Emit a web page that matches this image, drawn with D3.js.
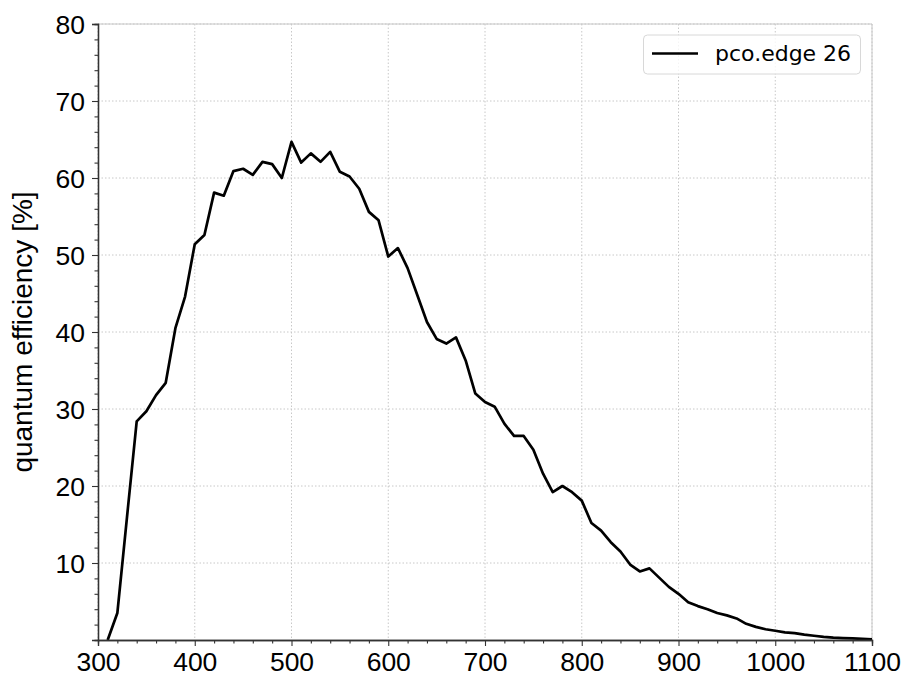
<!DOCTYPE html>
<html><head><meta charset="utf-8">
<script src="https://cdn.jsdelivr.net/npm/d3@7"></script>
<style>body{margin:0;background:#fff}</style>
</head><body>
<svg id="c" width="908" height="673"></svg>
<script>
const wavelengths = d3.range(310, 1101, 10);
const qe = [0,3.5,16,28.4,29.7,31.8,33.4,40.5,44.6,51.4,
52.6,58.1,57.7,60.9,61.2,60.4,62.1,61.8,60.0,64.7,
62.0,63.2,62.1,63.4,60.8,60.2,58.6,55.6,54.5,49.8,
50.9,48.3,44.8,41.3,39.1,38.5,39.3,36.3,32.0,30.9,
30.3,28.1,26.5,26.5,24.7,21.6,19.2,20.0,19.2,18.1,
15.2,14.2,12.7,11.5,9.8,8.9,9.3,8.1,6.9,6.0,
4.9,4.4,4.0,3.5,3.2,2.8,2.1,1.7,1.4,1.2,
1.0,0.9,0.7,0.55,0.4,0.3,0.25,0.2,0.15,0.1];
const xTicks = [300,400,500,600,700,800,900,1000,1100];
const yTicks = [10,20,30,40,50,60,70,80];
const seriesName = "pco.edge 26";
const yLabel = "quantum efficiency [%]";

const L=98,R=872,T=24,B=640;
const svg=d3.select("#c");
const x=d3.scaleLinear().domain([300,1100]).range([L,R]);
const y=d3.scaleLinear().domain([0,80]).range([B,T]);
const font="'Liberation Sans',Arial,sans-serif";

// grid
const g=svg.append("g");
g.selectAll(".gx").data(xTicks).join("line")
 .attr("x1",d=>x(d)).attr("x2",d=>x(d)).attr("y1",T).attr("y2",B)
 .attr("stroke","#c8c8c8").attr("stroke-width",1).attr("stroke-dasharray","1.5,2");
g.selectAll(".gy").data(yTicks).join("line")
 .attr("y1",d=>y(d)).attr("y2",d=>y(d)).attr("x1",L).attr("x2",R)
 .attr("stroke","#c8c8c8").attr("stroke-width",1).attr("stroke-dasharray","1.5,2");

// top/right spines
svg.append("line").attr("x1",L).attr("x2",R).attr("y1",T).attr("y2",T).attr("stroke","#c8c8c8");
svg.append("line").attr("x1",R).attr("x2",R).attr("y1",T).attr("y2",B).attr("stroke","#c8c8c8");

// line
svg.append("path").datum(wavelengths.map((w,i)=>[w,qe[i]]))
 .attr("fill","none").attr("stroke","#000").attr("stroke-width",2.7).attr("stroke-linejoin","round")
 .attr("d",d3.line().x(d=>x(d[0])).y(d=>y(d[1])));

// axes
const xa=svg.append("g").attr("transform",`translate(0,${B})`)
 .call(d3.axisBottom(x).tickValues(xTicks).tickFormat(d3.format("d")).tickSize(6).tickPadding(0));
const xm=svg.append("g").attr("transform",`translate(0,${B})`)
 .call(d3.axisBottom(x).tickValues(d3.range(300,1101,20).filter(v=>v%100)).tickFormat("").tickSize(3.5));
const ya=svg.append("g").attr("transform",`translate(${L},0)`)
 .call(d3.axisLeft(y).tickValues(yTicks).tickSize(6).tickPadding(7));
const ym=svg.append("g").attr("transform",`translate(${L},0)`)
 .call(d3.axisLeft(y).tickValues(d3.range(0,81,2).filter(v=>v%10)).tickFormat("").tickSize(3.5));
[xa,xm,ya,ym].forEach(a=>{a.selectAll("path").attr("stroke","#333").attr("stroke-width",1.3);
 a.selectAll("line").attr("stroke","#333").attr("stroke-width",1.1);
 a.selectAll("text").attr("fill","#000").style("font-family",font).style("font-size","26.5px");});
xa.selectAll("text").attr("y",31).attr("dy","0");
ya.selectAll("text").attr("dy","0.36em");

// y label
svg.append("text").attr("transform",`translate(32,${(T+B)/2}) rotate(-90)`)
 .attr("text-anchor","middle").style("font-family",font).style("font-size","28px")
 .text(yLabel);

// legend
const lg=svg.append("g");
lg.append("rect").attr("x",643.5).attr("y",35).attr("width",217).attr("height",39).attr("rx",4)
 .attr("fill","#fff").attr("fill-opacity",0.8).attr("stroke","#d8d8d8");
lg.append("line").attr("x1",652).attr("x2",698).attr("y1",53.5).attr("y2",53.5).attr("stroke","#000").attr("stroke-width",2.7);
lg.append("text").attr("x",715).attr("y",61).style("font-family","'DejaVu Sans',sans-serif").style("font-size","22px").text(seriesName);
</script>
</body></html>
